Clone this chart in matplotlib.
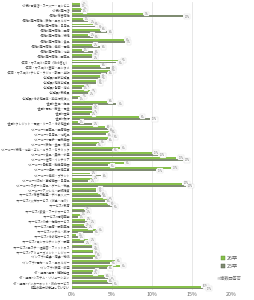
import matplotlib
matplotlib.use("Agg")
import matplotlib.pyplot as plt
from matplotlib.patches import Patch

plt.rcParams['font.family'] = ['Noto Sans CJK JP', 'DejaVu Sans']

# 志望業界（上から順）
categories = [
    "<小売>百貨店・スーパー・コンビニ", "<小売>専門店", "<商社>総合商社",
    "<商社>専門商社：鉄鋼・エネルギー", "<商社>専門商社：日用品", "<商社>専門商社：医療",
    "<商社>専門商社：繊維", "<商社>専門商社：食品", "<商社>専門商社：機械・電機",
    "<商社>専門商社：化学", "<商社>専門商社：医薬品", "<広告・マスコミ>広告（Web含む）",
    "<広告・マスコミ>芸能・エンタメ", "<広告・マスコミ>テレビ・ラジオ・新聞・出版",
    "<公務員>国家公務員", "<公務員>地方公務員", "<公務員>警察・消防", "<公務員>教職員",
    "<公務員>その他団体・独立行政法人", "<金融>生保・損保", "<金融>信託・労金・信金",
    "<金融>証券", "<金融>銀行", "<金融>クレジット・信販・リース・その他金融",
    "<メーカー>医薬品・医療機器", "<メーカー>日用品・化粧品", "<メーカー>電子・電気機器",
    "<メーカー>鉄鋼・金属・鉱業", "<メーカー>繊維・化学・ゴム・ガラス・セラミック",
    "<メーカー>食品・農林・水産", "<メーカー>住宅・インテリア",
    "<メーカー>自動車・輸送用機器", "<メーカー>建設・設備工事", "<メーカー>機械・プラント",
    "<メーカー>印刷・事務機器・日用品", "<メーカー>スポーツ用品・ゲーム・玩具",
    "<メーカー>アパレル・服飾雑貨", "<サービス>総合不動産・デベロッパー",
    "<サービス>人材サービス（派遣・紹介）", "<サービス>教育", "<サービス>飲食・フードサービス",
    "<サービス>冠婚葬祭", "<サービス>介護・福祉サービス", "<サービス>医療・調剤薬局",
    "<サービス>ホテル・旅行", "<サービス>その他サービス", "<サービス>コンサルティング・調査",
    "<サービス>エステ・理美容・フィットネス", "<サービス>アミューズメント・レジャー",
    "<インフラ>陸運・海運・物流", "<インフラ>電力・ガス・エネルギー", "<インフラ>鉄道・航空",
    "<IT・通信>通信・情報処理", "<IT・通信>システム・ソリューション",
    "<IT・通信>インターネット・Webサービス", "特定の業界は志望していない",
]

sotsu26 = [1.1, 1.3, 8.9, 1.4, 2.7, 3.5, 2.1, 6.5, 2.5, 1.3, 2.5, 6.0, 3.5, 4.8, 3.5,
           3.1, 1.5, 2.3, 1.2, 4.4, 2.5, 2.5, 8.4, 0.8, 4.2, 4.8, 5.0, 3.4, 6.0, 10.0,
           13.1, 6.5, 12.4, 2.3, 2.5, 13.8, 3.1, 3.5, 4.4, 4.6, 1.5, 1.0, 1.7, 1.5, 3.1,
           0.6, 2.1, 2.5, 2.7, 2.9, 5.4, 6.0, 2.7, 4.0, 4.4, 16.2]
sotsu25 = [1.0, 1.2, 13.9, 2.1, 3.1, 4.4, 2.7, 6.7, 3.5, 2.7, 2.5, 5.6, 4.8, 4.4, 3.5,
           3.1, 1.3, 2.0, 0.8, 5.6, 2.5, 2.3, 9.8, 2.5, 4.5, 4.3, 4.4, 3.0, 5.0, 10.8,
           13.9, 4.6, 10.5, 3.7, 2.1, 14.3, 3.1, 3.7, 4.2, 5.0, 1.7, 0.8, 2.1, 1.9, 2.7,
           0.8, 1.5, 2.5, 2.7, 2.7, 4.8, 4.4, 2.5, 4.6, 5.0, 16.6]
n = len(categories)

xticks = [0, 5, 10, 15, 20]

c26 = '#86c04a'
c25 = '#7f8c72'

fig = plt.figure(figsize=(2.54, 3.0), dpi=100)
ax = fig.add_axes([0.282, 0.033, 0.63, 0.959])

y = list(range(n))
h = 0.37
ax.barh([i - 0.19 for i in y], sotsu26, height=h, color=c26, zorder=3)
ax.barh([i + 0.19 for i in y], sotsu25, height=h, color=c25, zorder=3)

box = dict(boxstyle='square,pad=0.15', fc='white', ec='#cccccc', lw=0.2)
for i in y:
    ax.text(sotsu26[i] + 0.25, i - 0.25, f"{sotsu26[i]:.0f}%", fontsize=1.8,
            color='#777777', va='center', ha='left', bbox=box, zorder=4)
    ax.text(sotsu25[i] + 0.25, i + 0.25, f"{sotsu25[i]:.0f}%", fontsize=1.8,
            color='#777777', va='center', ha='left', bbox=box, zorder=4)

ax.set_ylim(n - 0.5, -0.5)
ax.set_yticks(y)
ax.set_yticklabels(categories, fontsize=2.2, color='#444444')
ax.set_xlim(0, 20)
ax.set_xticks(xticks)
ax.set_xticklabels([f"{t}%" for t in xticks], fontsize=3.8, color='#666666')
ax.tick_params(length=0, pad=1.2)
ax.grid(axis='x', color='#e3e3e3', lw=0.6, zorder=0)
for s in ax.spines.values():
    s.set_visible(False)

handles = [Patch(fc=c26, ec='#5c8a30', lw=0.3), Patch(fc=c25, ec='#4f5a45', lw=0.3)]
leg = ax.legend(handles, ['26卒', '25卒'], loc='lower left', bbox_to_anchor=(0.92, 0.065),
                fontsize=3.8, frameon=False, handlelength=0.7, handleheight=0.7,
                handletextpad=0.3, labelspacing=0.6, borderpad=0)
for t in leg.get_texts():
    t.set_color('#555555')
ax.text(0.905, 0.042, '※複数回答可', transform=ax.transAxes, fontsize=3.0,
        color='#666666', va='center', ha='left')

fig.savefig('out.png', dpi=100)
